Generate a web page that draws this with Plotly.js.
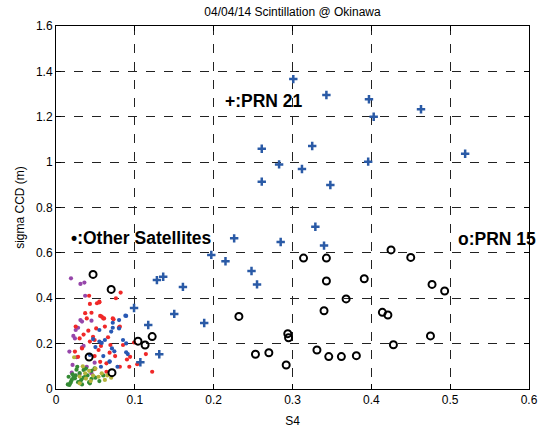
<!DOCTYPE html>
<html><head><meta charset="utf-8">
<script src="https://cdn.plot.ly/plotly-3.0.1.min.js"></script>
<style>body{margin:0;background:#fff}#chart{width:543px;height:428px}</style>
</head><body><div id="chart"></div>
<script>
// PRN 21 (blue plus)
const prn21_s4  = [0.301,0.343,0.397,0.403,0.463,0.519,0.261,0.325,0.283,0.312,0.396,0.261,0.348,0.226,0.285,0.329,0.340,0.197,0.215,0.248,0.255,0.188,0.128,0.136,0.161,0.099,0.150,0.117,0.131,0.107];
const prn21_sig = [1.366,1.296,1.277,1.200,1.233,1.037,1.059,1.071,0.990,0.970,1.002,0.914,0.899,0.664,0.648,0.715,0.632,0.591,0.563,0.520,0.461,0.291,0.480,0.495,0.450,0.357,0.331,0.282,0.153,0.118];
// PRN 15 (black circle)
const prn15_s4  = [0.314,0.343,0.425,0.450,0.343,0.391,0.477,0.493,0.368,0.232,0.340,0.414,0.421,0.294,0.295,0.475,0.428,0.253,0.270,0.331,0.346,0.362,0.381,0.292,0.047,0.070,0.104,0.113,0.122,0.042,0.071];
const prn15_sig = [0.577,0.577,0.613,0.580,0.476,0.486,0.461,0.432,0.397,0.320,0.345,0.338,0.326,0.244,0.226,0.234,0.195,0.153,0.160,0.172,0.143,0.143,0.147,0.106,0.505,0.439,0.211,0.194,0.231,0.141,0.072];
// Other satellites
const purple_s4  = [0.019,0.031,0.036,0.037,0.031,0.033,0.045,0.025,0.022,0.024,0.017,0.033,0.021,0.020,0.030,0.039,0.045,0.049,0.028,0.035,0.026];
const purple_sig = [0.488,0.463,0.469,0.411,0.304,0.297,0.301,0.260,0.234,0.223,0.165,0.184,0.106,0.072,0.066,0.098,0.069,0.116,0.270,0.190,0.140];
const red_s4  = [0.042,0.043,0.052,0.055,0.045,0.037,0.025,0.041,0.030,0.043,0.049,0.056,0.060,0.073,0.082,0.076,0.080,0.066,0.057,0.054,0.033,0.049,0.056,0.064,0.075,0.081,0.093,0.094,0.103,0.114,0.122,0.085,0.069,0.051,0.062,0.039,0.024,0.028,0.064,0.049,0.055,0.058,0.061,0.072,0.081,0.035,0.047,0.068,0.090,0.099];
const red_sig = [0.411,0.375,0.378,0.385,0.336,0.334,0.275,0.257,0.223,0.209,0.216,0.322,0.311,0.307,0.425,0.400,0.272,0.228,0.190,0.172,0.179,0.145,0.120,0.113,0.145,0.098,0.098,0.142,0.109,0.154,0.076,0.194,0.194,0.267,0.275,0.311,0.165,0.142,0.076,0.087,0.382,0.319,0.311,0.311,0.275,0.240,0.230,0.160,0.130,0.205];
const blue_s4  = [0.055,0.080,0.072,0.089,0.062,0.055,0.071,0.085,0.089,0.091,0.060,0.057,0.068,0.078,0.043,0.072,0.080,0.088,0.070,0.058,0.074,0.068,0.089,0.050,0.047];
const blue_sig = [0.260,0.304,0.292,0.322,0.216,0.209,0.179,0.216,0.201,0.154,0.145,0.098,0.120,0.098,0.150,0.270,0.267,0.323,0.253,0.203,0.166,0.122,0.162,0.185,0.220];
const green_s4  = [0.016,0.019,0.017,0.024,0.030,0.035,0.037,0.043,0.027,0.049,0.015,0.020,0.025,0.030,0.035,0.040,0.045,0.050,0.018,0.022,0.028,0.032,0.038,0.042,0.026,0.045,0.055,0.021,0.033,0.060];
const green_sig = [0.054,0.032,0.018,0.047,0.032,0.084,0.054,0.025,0.098,0.091,0.020,0.040,0.060,0.070,0.050,0.060,0.080,0.050,0.025,0.050,0.030,0.040,0.090,0.030,0.085,0.045,0.035,0.065,0.020,0.060];
const yellow_s4  = [0.023,0.030,0.037,0.047,0.054,0.058,0.030,0.038,0.042,0.065,0.070,0.050,0.034,0.062,0.044];
const yellow_sig = [0.140,0.055,0.069,0.059,0.054,0.069,0.025,0.046,0.080,0.060,0.050,0.090,0.100,0.040,0.035];

const dot = (x,y,c)=>({x:x,y:y,type:'scatter',mode:'markers',marker:{size:4.2,color:c},hoverinfo:'skip'});
const data = [
  dot(purple_s4,purple_sig,'#9646aa'),
  dot(red_s4,red_sig,'#f02828'),
  dot(blue_s4,blue_sig,'#2858b4'),
  dot(green_s4,green_sig,'#348a34'),
  dot(yellow_s4,yellow_sig,'#b4b43a'),
  {x:prn15_s4,y:prn15_sig,type:'scatter',mode:'markers',marker:{symbol:'circle-open',size:7,color:'#000',line:{width:2,color:'#000'}}},
  {x:prn21_s4,y:prn21_sig,type:'scatter',mode:'markers',marker:{symbol:'cross-thin-open',size:6,color:'#2a5aa6',line:{width:2.5,color:'#2a5aa6'}}}
];
const tickFont = {family:'Liberation Sans, Arial, sans-serif',size:12,color:'#000'};
const annFont = {family:'Liberation Sans, Arial, sans-serif',size:17.5,color:'#000',weight:'bold'};
const layout = {
  width:543,height:428,showlegend:false,
  paper_bgcolor:'#fff',plot_bgcolor:'#fff',
  margin:{l:56,r:14,t:26,b:39},
  title:{text:'04/04/14 Scintillation @ Okinawa',font:{family:'Liberation Sans, Arial, sans-serif',size:12,color:'#000'},xref:'paper',x:0.5,xanchor:'center',yref:'container',y:0.973,yanchor:'middle'},
  xaxis:{range:[0,0.6],dtick:0.1,showgrid:true,gridcolor:'#222',griddash:'dash',gridwidth:1,zeroline:false,
    showline:true,linecolor:'#000',linewidth:1,mirror:'ticks',ticks:'inside',ticklen:5,tickcolor:'#000',tickfont:tickFont,
    title:{text:'S4',font:tickFont,standoff:12}},
  yaxis:{range:[0,1.6],dtick:0.2,showgrid:true,gridcolor:'#222',griddash:'dash',gridwidth:1,zeroline:false,
    showline:true,linecolor:'#000',linewidth:1,mirror:'ticks',ticks:'inside',ticklen:5,tickcolor:'#000',tickfont:tickFont,
    title:{text:'sigma CCD (m)',font:tickFont,standoff:8}},
  annotations:[
    {x:0.212,y:1.268,xref:'x',yref:'y',text:'+:PRN 21',showarrow:false,xanchor:'left',yanchor:'middle',font:annFont},
    {x:0.016,y:0.665,xref:'x',yref:'y',text:'•:Other Satellites',showarrow:false,xanchor:'left',yanchor:'middle',font:annFont},
    {x:0.508,y:0.661,xref:'x',yref:'y',text:'o:PRN 15',showarrow:false,xanchor:'left',yanchor:'middle',font:annFont}
  ]
};
Plotly.newPlot('chart',data,layout,{displayModeBar:false,staticPlot:true});
</script></body></html>
